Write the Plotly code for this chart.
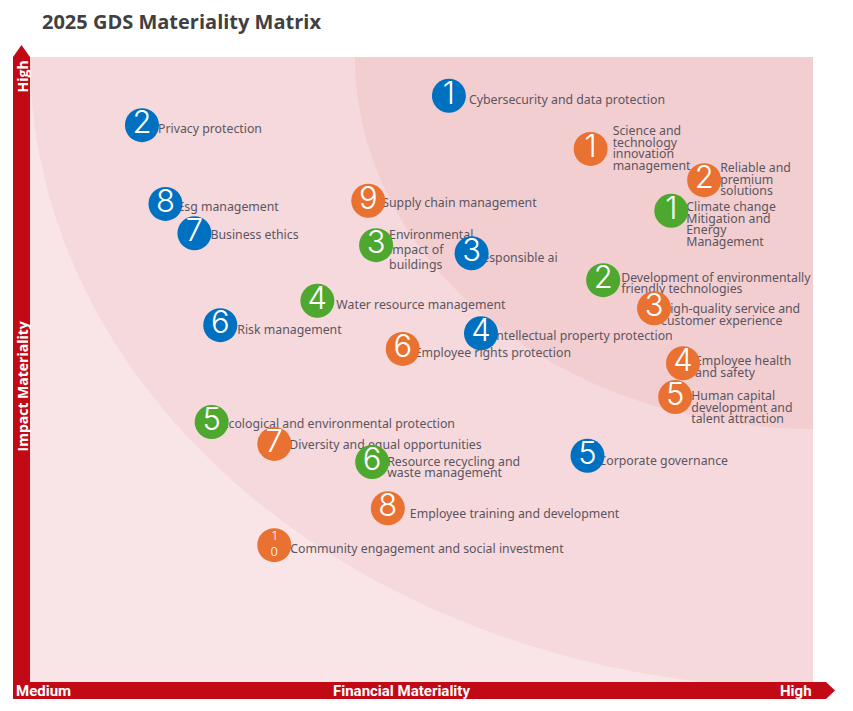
"""
2025 GDS materiality matrix rebuilt with plotly.
Both axes run 0-10 (medium -> high), values read off the original graphic.
"""

import numpy as np
import plotly.graph_objects as go

# ---- data ---------------------------------------------------------------
# blue topics
blue_ids = [1, 2, 3, 4, 5, 6, 7, 8]
blue_labels = [
    "Cybersecurity and data protection",
    "Privacy protection",
    "Responsible ai",
    "Intellectual property protection",
    "Corporate governance",
    "Risk management",
    "Business ethics",
    "Esg management",
]
blue_x = [5.35, 1.43, 5.64, 5.76, 7.12, 2.43, 2.10, 1.73]
blue_y = [9.38, 8.91, 6.86, 5.58, 3.62, 5.71, 7.18, 7.65]

# orange topics
orange_ids = [1, 2, 3, 4, 5, 6, 7, 8, 9, 10]
orange_labels = [
    "Science and\ntechnology\ninnovation\nmanagement",
    "Reliable and\npremium\nsolutions",
    "High-quality service and\ncustomer experience",
    "Employee health\nand safety",
    "Human capital\ndevelopment and\ntalent attraction",
    "Employee rights protection",
    "Diversity and equal opportunities",
    "Employee training and development",
    "Supply chain management",
    "Community engagement and social investment",
]
orange_x = [7.16, 8.61, 7.97, 8.34, 8.24, 4.76, 3.12, 4.57, 4.32, 3.12]
orange_y = [8.53, 8.03, 5.98, 5.10, 4.56, 5.33, 3.81, 2.78, 7.70, 2.19]

# green topics
green_ids = [1, 2, 3, 4, 5, 6]
green_labels = [
    "Climate change\nMitigation and\nEnergy\nManagement",
    "Development of environmentally\nfriendly technologies",
    "Environmental\nimpact of\nbuildings",
    "Water resource management",
    "Ecological and environmental protection",
    "Resource recycling and\nwaste management",
]
green_x = [8.19, 7.32, 4.42, 3.67, 2.32, 4.37]
green_y = [7.54, 6.43, 6.99, 6.10, 4.16, 3.52]

# ---- layout / style -----------------------------------------------------
# the page body adds an 8px margin, so the figure itself is 8px smaller
OFF = 8
W, H = 853 - OFF, 711 - OFF
L, R, T, B = 30, 813, 57, 682          # plot area, page pixels
PX_X = (R - L) / 10.0
PX_Y = (B - T) / 10.0

BLUE, ORANGE, GREEN = "#0070C0", "#E97132", "#4EA72E"
RED = "#C20A16"
TEXT_GREY = "#5A5560"

# label nudges in pixels (dx right, dy down) and line spacing
NUDGE = {
    "blue": [(20, 4), (16, 3), (3, 4), (11, 2), (11, 5), (17, 4), (16, 1), (12, 3)],
    "orange": [(22, -1), (16, -1), (7, 6), (12, 3), (16, 10), (12, 4), (15, 1),
               (22, 5), (14, 2), (16, 3)],
    "green": [(15, 13), (18, 3), (13, 4), (19, 4), (10, 1), (15, 5)],
}
LINE_GAP = 11.5
WIDE_GAP = {("green", 2): 15.0}


def paper_x(px):
    return (px - L) / (R - L)


def paper_y(py):
    return (B - py) / (B - T)


def quarter_disc(rx, ry, n=120):
    t = np.linspace(np.pi, 1.5 * np.pi, n)
    xs = 10 + rx * np.cos(t)
    ys = 10 + ry * np.sin(t)
    pts = " L ".join(f"{a:.4f},{b:.4f}" for a, b in zip(xs, ys))
    return f"M 10,10 L {pts} Z"


fig = go.Figure()

# labels first, so the circles sit on top of them
for name, ids, labels, xs, ys in [
    ("blue", blue_ids, blue_labels, blue_x, blue_y),
    ("orange", orange_ids, orange_labels, orange_x, orange_y),
    ("green", green_ids, green_labels, green_x, green_y),
]:
    lx, ly, lt = [], [], []
    for k, (lab, x, y) in enumerate(zip(labels, xs, ys)):
        dx, dy = NUDGE[name][k]
        gap = WIDE_GAP.get((name, k), LINE_GAP)
        lines = lab.split("\n")
        n = len(lines)
        for i, line in enumerate(lines):
            off = dy + 1.5 + (i - (n - 1) / 2) * gap
            lx.append(x + dx / PX_X)
            ly.append(y - off / PX_Y)
            lt.append(line)
    fig.add_trace(go.Scatter(
        x=lx, y=ly, text=lt, mode="text", textposition="middle right",
        textfont=dict(family="Noto Sans, Liberation Sans, sans-serif", size=12.3,
                      color=TEXT_GREY),
        hoverinfo="skip", showlegend=False, cliponaxis=False,
    ))

for color, ids, labels, xs, ys in [
    (BLUE, blue_ids, blue_labels, blue_x, blue_y),
    (ORANGE, orange_ids, orange_labels, orange_x, orange_y),
    (GREEN, green_ids, green_labels, green_x, green_y),
]:
    nums = [str(i) if i < 10 else "<br>".join(str(i)) for i in ids]
    sizes = [31 if i < 10 else 12 for i in ids]
    fig.add_trace(go.Scatter(
        x=xs, y=ys, mode="markers+text", text=nums,
        textposition="middle center",
        marker=dict(size=34, color=color, line=dict(width=0)),
        textfont=dict(family="Inter, Lato, sans-serif", size=sizes,
                      color="white", weight=300),
        customdata=[lab.replace("\n", " ") for lab in labels],
        hovertemplate="%{customdata}<extra></extra>",
        showlegend=False, cliponaxis=False,
    ))

shapes = [
    dict(type="rect", xref="x", yref="y", x0=0, x1=10, y0=0, y1=10,
         fillcolor="#F9E5E7", line_width=0, layer="below"),
    dict(type="path", xref="x", yref="y", path=quarter_disc(10, 10.1),
         fillcolor="#F6D9DC", line_width=0, layer="below"),
    dict(type="path", xref="x", yref="y", path=quarter_disc(5.85, 5.95),
         fillcolor="#F2CED1", line_width=0, layer="below"),
]

# red axis arrows
yx0, yx1 = paper_x(13), paper_x(30)
shapes.append(dict(
    type="path", xref="paper", yref="paper", fillcolor=RED, line_width=0,
    path=(f"M {yx0},{paper_y(699)} L {yx0},{paper_y(57)} "
          f"L {paper_x(21.5)},{paper_y(45)} L {yx1},{paper_y(57)} "
          f"L {yx1},{paper_y(699)} Z"),
))
shapes.append(dict(
    type="path", xref="paper", yref="paper", fillcolor=RED, line_width=0,
    path=(f"M {yx0},{paper_y(682)} L {paper_x(826)},{paper_y(682)} "
          f"L {paper_x(835)},{paper_y(690.5)} L {paper_x(826)},{paper_y(699)} "
          f"L {yx0},{paper_y(699)} Z"),
))

axis_font = dict(family="Open Sans, Liberation Sans, sans-serif", size=14,
                 color="white", weight="bold")
narrow_font = dict(family="Roboto, sans-serif", size=15,
                   color="white", weight="bold")
annotations = [
    dict(text="High", x=paper_x(21.5), y=paper_y(77), textangle=-90,
         font=axis_font),
    dict(text="Impact Materiality", x=paper_x(21.5), y=paper_y(387),
         textangle=-90, font=axis_font),
    dict(text="Medium", x=paper_x(14), y=paper_y(690.5), xanchor="left",
         font=narrow_font),
    dict(text="Financial Materiality", x=paper_x(401), y=paper_y(690.5),
         font=narrow_font),
    dict(text="High", x=paper_x(814), y=paper_y(690.5), xanchor="right",
         font=narrow_font),
]
for a in annotations:
    a.update(xref="paper", yref="paper", showarrow=False)
    a.setdefault("xanchor", "center")
    a.setdefault("yanchor", "middle")

fig.update_layout(
    width=W, height=H,
    margin=dict(l=L - OFF, r=W - (R - OFF), t=T - OFF, b=H - (B - OFF)),
    paper_bgcolor="white", plot_bgcolor="#F9E5E7",
    title=dict(text="<b>2025 GDS Materiality Matrix</b>", xref="container",
               yref="container", x=(42 - OFF) / W, y=1 - (22 - OFF) / H,
               xanchor="left", yanchor="middle",
               font=dict(family="Open Sans, sans-serif", size=20,
                         color="#404040")),
    xaxis=dict(range=[0, 10], visible=False, fixedrange=True),
    yaxis=dict(range=[0, 10], visible=False, fixedrange=True),
    shapes=shapes, annotations=annotations,
)

fig.write_html("out.html")
